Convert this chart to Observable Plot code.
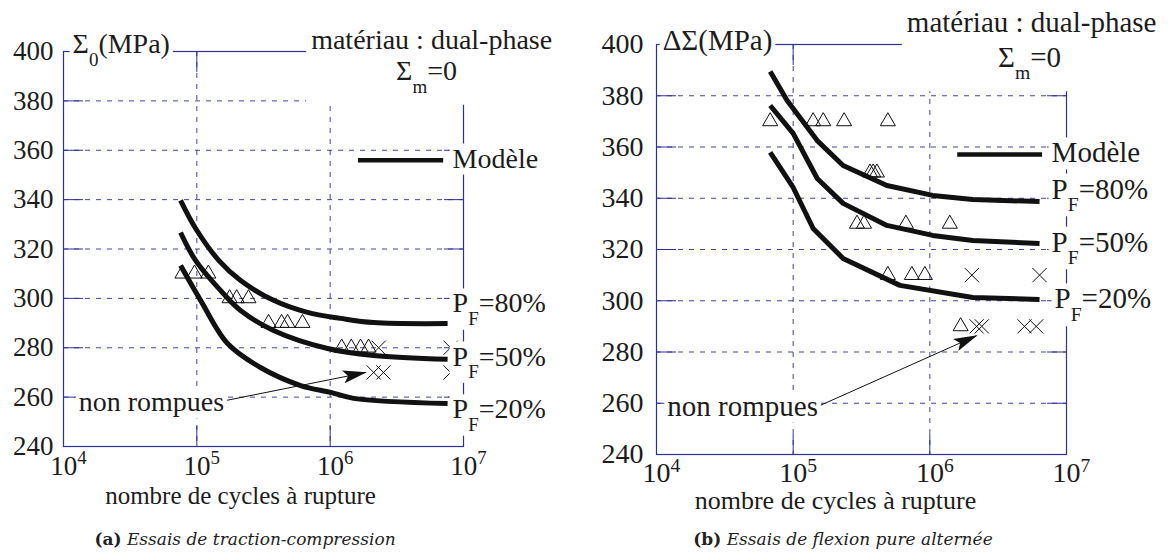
<!DOCTYPE html>
<html><head><meta charset="utf-8">
<script src="https://cdn.jsdelivr.net/npm/d3@7"></script>
<script src="https://cdn.jsdelivr.net/npm/@observablehq/plot@0.6"></script>
<style>
  body { margin:0; background:#fff; width:1170px; height:552px; overflow:hidden; position:relative; font-family:Liberation Serif, serif; }
  #left { position:absolute; left:0; top:0; }
  #right { position:absolute; left:585px; top:0; }
  .cap { position:absolute; top:529px; font-family:DejaVu Serif, serif; font-size:17px; transform:translateX(-50%); white-space:nowrap; color:#222; }
  .cap b { font-weight:bold; font-style:normal; }
</style></head>
<body>
<div id="left"></div><div id="right"></div>
<div class="cap" style="left:245px"><b>(a)</b> <i>Essais de traction-compression</i></div>
<div class="cap" style="left:843px"><b>(b)</b> <i>Essais de flexion pure alternée</i></div>
<script>
// ---------- axes ----------
const xTicks = [1e4, 1e5, 1e6, 1e7];
const xGridTicks = [1e5, 1e6];
const yTicks = [240, 260, 280, 300, 320, 340, 360, 380, 400];
const yGridTicks = [260, 280, 300, 320, 340, 360, 380];
const xAxisTitle = "nombre de cycles à rupture";

// ---------- (a) traction-compression ----------
const aCycles80 = [7.55e4, 9.8e4, 1.46e5, 2.13e5, 3.76e5, 6.76e5, 1.2e6, 2.12e6, 7.6e6];
const aStress80 = [339.7, 328.3, 315.4, 307.2, 299.2, 294.3, 291.9, 290.2, 289.8];
const aCycles50 = [7.55e4, 9.78e4, 1.58e5, 2.13e5, 3.76e5, 9.55e5, 2.12e6, 7.6e6];
const aStress50 = [326.7, 315.4, 302.0, 295.1, 287.0, 279.7, 276.9, 275.3];
const aCycles20 = [7.55e4, 1.07e5, 1.70e5, 3.0e5, 6.0e5, 1.01e6, 1.5e6, 7.6e6];
const aStress20 = [313.3, 299.1, 281.7, 272.0, 264.7, 261.9, 259.5, 257.4];

const aTriCycles = [7.8e4, 9.6e4, 1.22e5, 1.76e5, 1.99e5, 2.44e5, 3.45e5, 4.32e5, 4.79e5, 6.2e5, 1.22e6, 1.44e6, 1.69e6, 1.94e6];
const aTriStress = [310, 310, 310, 300, 300, 300, 290, 290, 290, 290, 280, 280, 280, 280];
const aCrossCycles = [2.31e6, 8.0e6, 2.12e6, 2.51e6, 8.0e6];
const aCrossStress = [280, 280, 270, 270, 270];

const aNotes = ["Σ_{0}(MPa)", "matériau : dual-phase", "Σ_{m}=0", "Modèle", "P_{F}=80%", "P_{F}=50%", "P_{F}=20%", "non rompues"];
const aNoteCycles = [1.17e4, 5.77e6, 5.28e6, 8.28e6, 8.28e6, 8.28e6, 8.28e6, 1.30e4];
const aNoteStress = [399.2, 401.2, 388.3, 353.0, 294.3, 272.8, 251.4, 254.2];
const aNoteAnchor = ["start", "middle", "middle", "start", "start", "start", "start", "start"];
const aArrowCycles = [1.64e5, 1.85e6];
const aArrowStress = [258.6, 270.0];
const aLegendCycles = [1.63e6, 7.1e6];
const aLegendStress = 355.9;

// ---------- (b) flexion pure alternée ----------
const bCycles80 = [6.79e4, 9.03e4, 1.50e5, 2.32e5, 4.85e5, 1.05e6, 2.06e6, 6.35e6];
const bStress80 = [389.5, 378.1, 362.5, 352.8, 345.0, 341.1, 339.5, 338.7];
const bCycles50 = [6.79e4, 1.0e5, 1.50e5, 2.32e5, 4.85e5, 1.05e6, 2.06e6, 6.35e6];
const bStress50 = [376.2, 365.3, 347.7, 338.0, 329.4, 325.5, 323.5, 322.3];
const bCycles20 = [6.79e4, 1.0e5, 1.40e5, 2.32e5, 6.04e5, 2.06e6, 6.35e6];
const bStress20 = [357.9, 344.2, 328.2, 316.5, 306.0, 301.3, 300.5];

const bTriCycles = [6.79e4, 1.40e5, 1.66e5, 2.36e5, 4.93e5, 3.65e5, 3.85e5, 4.1e5, 2.93e5, 3.3e5, 6.68e5, 1.40e6, 4.93e5, 7.39e5, 9.2e5, 1.68e6];
const bTriStress = [370, 370, 370, 370, 370, 350, 350, 350, 330, 330, 330, 330, 310, 310, 310, 290];
const bCrossCycles = [2.03e6, 6.35e6, 2.2e6, 2.4e6, 4.93e6, 6.0e6];
const bCrossStress = [310, 310, 290, 290, 290, 290];

const bNotes = ["ΔΣ(MPa)", "matériau : dual-phase", "Σ_{m}=0", "Modèle", "P_{F}=80%", "P_{F}=50%", "P_{F}=20%", "non rompues"];
const bNoteCycles = [1.11e4, 5.56e6, 5.37e6, 7.78e6, 7.78e6, 7.78e6, 8.17e6, 1.2e4];
const bNoteStress = [397.7, 404.7, 391.4, 354.0, 339.9, 319.2, 297.0, 255.2];
const bNoteAnchor = ["start", "middle", "middle", "start", "start", "start", "start", "start"];
const bArrowCycles = [1.57e5, 2.2e6];
const bArrowStress = [259.1, 286.4];
const bLegendCycles = [1.6e6, 6.68e6];
const bLegendStress = 357.1;

// ---------- helpers ----------
const navy = "#30309a";
const ink = "#1c1c1c";
const serif = "Liberation Serif";
const NS = "http://www.w3.org/2000/svg";

function richify(svg) {
  svg.querySelectorAll("text").forEach(t => {
    const s = t.textContent;
    if (!/[_^]\{/.test(s)) return;
    const parts = []; const re = /([_^])\{([^}]*)\}/g; let last = 0, m;
    while ((m = re.exec(s))) {
      if (m.index > last) parts.push({t: s.slice(last, m.index)});
      parts.push({t: m[2], k: m[1]}); last = re.lastIndex;
    }
    if (last < s.length) parts.push({t: s.slice(last)});
    const fs = parseFloat(getComputedStyle(t).fontSize);
    t.textContent = "";
    let shift = 0;
    parts.forEach(p => {
      const ts = document.createElementNS(NS, "tspan");
      let target = 0, size = null;
      if (p.k === "_") { target = 0.44 * fs; size = 0.68 * fs; }
      else if (p.k === "^") { target = -0.38 * fs; size = 0.7 * fs; }
      ts.setAttribute("dy", (target - shift).toFixed(2));
      shift = target;
      if (size) ts.setAttribute("font-size", size.toFixed(1));
      ts.textContent = p.t;
      t.appendChild(ts);
    });
  });
}

function rectOf(t, sr) {
  const r = t.getBoundingClientRect();
  return {x0: r.left - sr.left, x1: r.right - sr.left, y0: r.top - sr.top, y1: r.bottom - sr.top};
}

function addBoxes(svg, pad) {
  const groups = [...svg.querySelectorAll('g[aria-label="text"]')];
  if (!groups.length) return;
  const sr = svg.getBoundingClientRect();
  const boxG = document.createElementNS(NS, "g");
  const put = (b) => {
    const rect = document.createElementNS(NS, "rect");
    rect.setAttribute("x", b.x0);
    rect.setAttribute("y", b.y0);
    rect.setAttribute("width", b.x1 - b.x0);
    rect.setAttribute("height", b.y1 - b.y0);
    rect.setAttribute("fill", "white");
    boxG.appendChild(rect);
  };
  groups.forEach((g, gi) => {
    const texts = [...g.querySelectorAll("text")].filter(t => !t.textContent.startsWith("nombre"));
    if (!texts.length) return;
    if (gi === 1) {
      // two-line block (matériau / Σm=0): one shared background box
      const rs = texts.map(t => rectOf(t, sr));
      put({x0: Math.min(...rs.map(r => r.x0)) - 5, x1: Math.max(...rs.map(r => r.x1)) + 5,
           y0: Math.min(...rs.map(r => r.y0)) + 1, y1: Math.max(...rs.map(r => r.y1)) + 8});
    } else {
      texts.forEach(t => {
        const r = rectOf(t, sr);
        put({x0: r.x0 - pad, x1: r.x1 + pad, y0: r.y0 - pad + 4, y1: r.y1 + pad - 2});
      });
    }
  });
  groups[0].parentNode.insertBefore(boxG, groups[0]);
}

function addArrowHead(svg, id) {
  const defs = document.createElementNS(NS, "defs");
  const marker = document.createElementNS(NS, "marker");
  marker.setAttribute("id", id);
  marker.setAttribute("viewBox", "0 0 24 13");
  marker.setAttribute("refX", "23");
  marker.setAttribute("refY", "6.5");
  marker.setAttribute("markerWidth", "24");
  marker.setAttribute("markerHeight", "13");
  marker.setAttribute("markerUnits", "userSpaceOnUse");
  marker.setAttribute("orient", "auto");
  const p = document.createElementNS(NS, "path");
  p.setAttribute("d", "M0,0L24,6.5L0,13L5,6.5Z");
  p.setAttribute("fill", "#111");
  marker.appendChild(p);
  defs.appendChild(marker);
  svg.insertBefore(defs, svg.firstChild);
  svg.querySelectorAll('g[aria-label="link"] path').forEach(q => q.setAttribute("marker-end", `url(#${id})`));
}

function panel(o) {
  const curveData = o.curves.flatMap(c => c.cycles.map((x, i) => ({x, y: c.stress[i], s: c.name})));
  const tri = o.triCycles.map((x, i) => ({x, y: o.triStress[i]}));
  const crs = o.crossCycles.map((x, i) => ({x, y: o.crossStress[i]}));
  const notes = o.notes.map((t, i) => ({t, x: o.noteCycles[i], y: o.noteStress[i], a: o.noteAnchor[i]}));
  const arrow = [{x1: o.arrowCycles[0], x2: o.arrowCycles[1], y1: o.arrowStress[0], y2: o.arrowStress[1]}];
  const legend = [{x1: o.legendCycles[0], x2: o.legendCycles[1], y: o.legendStress}];
  const grid = {stroke: navy, strokeOpacity: 0.9, strokeDasharray: "5,6", strokeWidth: 1};
  const tick = {tickSize: -20, tickFormat: () => "", stroke: navy, strokeWidth: 1, label: null};
  const svg = Plot.plot({
    width: 585, height: 520,
    marginLeft: o.mL, marginRight: o.mR, marginTop: o.mT, marginBottom: o.mB,
    style: {overflow: "visible", background: "transparent"},
    x: {type: "log", domain: [1e4, 1e7], label: null},
    y: {domain: [240, 400], label: null},
    marks: [
      Plot.gridY(yGridTicks, grid),
      Plot.gridX(xGridTicks, grid),
      Plot.frame({stroke: navy, strokeWidth: 1.2}),
      Plot.axisY(yTicks, {anchor: "left", ...tick}),
      Plot.axisY(yTicks, {anchor: "right", ...tick}),
      Plot.axisX(xTicks, {anchor: "bottom", ...tick}),
      Plot.axisX(xTicks, {anchor: "top", ...tick}),
      Plot.axisY(yTicks, {anchor: "left", tickSize: 0, tickPadding: o.yPad, fontSize: o.tickFs, fontFamily: serif, fill: ink, label: null}),
      Plot.axisX(xTicks, {anchor: "bottom", tickSize: 0, tickPadding: o.xPad, fontSize: o.tickFs, fontFamily: serif, fill: ink, label: null, dx: 5,
        tickFormat: d => `10^{${Math.round(Math.log10(d))}}`}),
      Plot.line(curveData, {x: "x", y: "y", z: "s", stroke: "#111", strokeWidth: 5, curve: o.curveType, strokeLinecap: "butt"}),
      Plot.dot(tri, {x: "x", y: "y", symbol: "triangle", r: 5.6, stroke: "#111", fill: "none", strokeWidth: 1}),
      Plot.dot(crs, {x: "x", y: "y", symbol: "times", r: 6.5, stroke: "#111", strokeWidth: 1}),
      Plot.link(arrow, {x1: "x1", x2: "x2", y1: "y1", y2: "y2", stroke: "#111", strokeWidth: 1}),
      Plot.text(notes.filter(d => d.a === "start"), {x: "x", y: "y", text: "t", textAnchor: "start", lineAnchor: "bottom", fontSize: o.noteFs, fontFamily: serif, fill: ink}),
      Plot.text(notes.filter(d => d.a === "middle"), {x: "x", y: "y", text: "t", textAnchor: "middle", lineAnchor: "bottom", fontSize: o.noteFs, fontFamily: serif, fill: ink}),
      Plot.ruleY(legend, {y: "y", x1: "x1", x2: "x2", stroke: "#111", strokeWidth: 4.5}),
      Plot.text([xAxisTitle], {text: d => d, frameAnchor: "bottom", dx: o.xlabDx, dy: o.xlabDy, lineAnchor: "bottom", fontSize: o.labelFs, fontFamily: serif, fill: ink})
    ]
  });
  document.getElementById(o.el).appendChild(svg);
  richify(svg);
  addBoxes(svg, 3);
  addArrowHead(svg, o.el + "-head");
}

panel({
  el: "left", mL: 63, mR: 122, mT: 51, mB: 74, yPad: 10, xPad: 9,
  tickFs: 27, noteFs: 28, labelFs: 25, xlabDx: -23, xlabDy: 57, curveType: "catmull-rom",
  curves: [
    {name: "80%", cycles: aCycles80, stress: aStress80},
    {name: "50%", cycles: aCycles50, stress: aStress50},
    {name: "20%", cycles: aCycles20, stress: aStress20}
  ],
  triCycles: aTriCycles, triStress: aTriStress, crossCycles: aCrossCycles, crossStress: aCrossStress,
  notes: aNotes, noteCycles: aNoteCycles, noteStress: aNoteStress, noteAnchor: aNoteAnchor,
  arrowCycles: aArrowCycles, arrowStress: aArrowStress, legendCycles: aLegendCycles, legendStress: aLegendStress
});
panel({
  el: "right", mL: 71, mR: 104, mT: 44, mB: 66, yPad: 13, xPad: 8,
  tickFs: 28, noteFs: 29, labelFs: 26, xlabDx: -26, xlabDy: 54, curveType: "linear",
  curves: [
    {name: "80%", cycles: bCycles80, stress: bStress80},
    {name: "50%", cycles: bCycles50, stress: bStress50},
    {name: "20%", cycles: bCycles20, stress: bStress20}
  ],
  triCycles: bTriCycles, triStress: bTriStress, crossCycles: bCrossCycles, crossStress: bCrossStress,
  notes: bNotes, noteCycles: bNoteCycles, noteStress: bNoteStress, noteAnchor: bNoteAnchor,
  arrowCycles: bArrowCycles, arrowStress: bArrowStress, legendCycles: bLegendCycles, legendStress: bLegendStress
});
</script>
</body></html>
